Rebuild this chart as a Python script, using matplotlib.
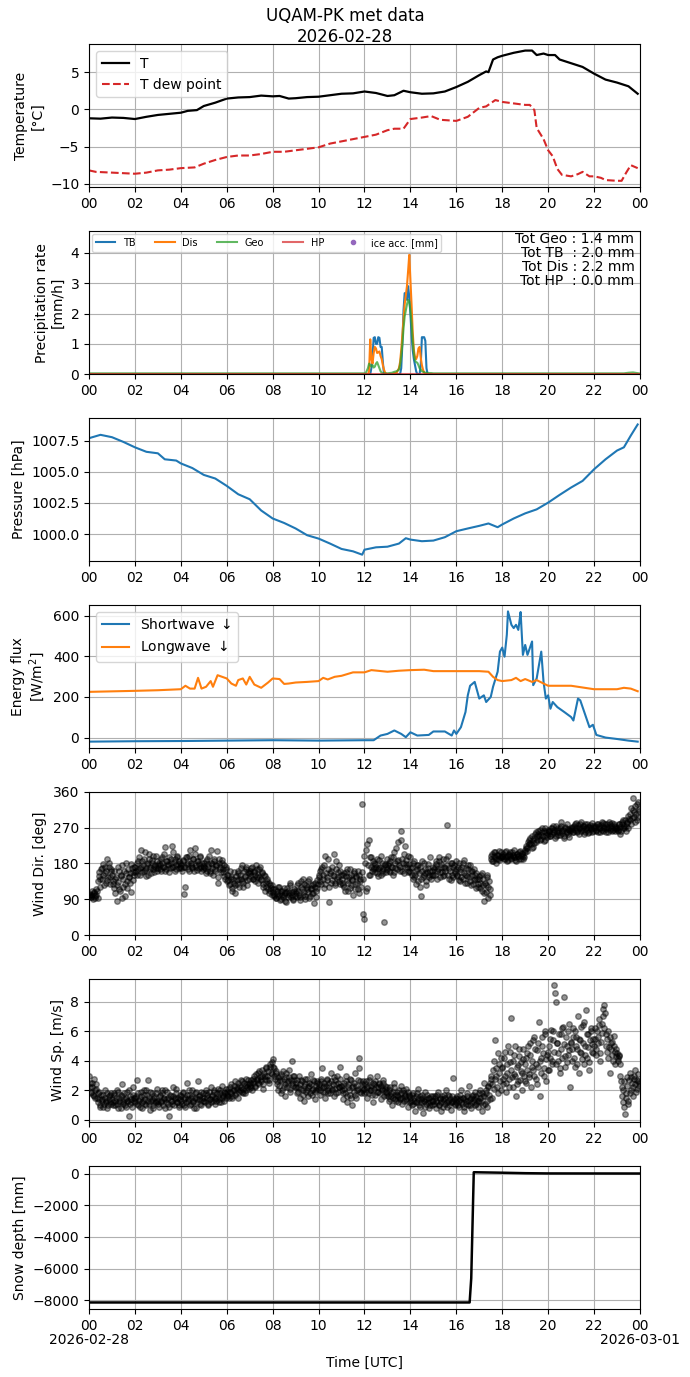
import numpy as np
import pandas as pd
import matplotlib
matplotlib.use('Agg')
import matplotlib.pyplot as plt
import matplotlib.dates as mdates
import matplotlib.transforms as mtransforms

day0 = pd.Timestamp('2026-02-28 00:00')

# temperature [degC], times in hours since 00 UTC
t_T = [0, 0.5, 1, 1.5, 2, 2.5, 3, 3.5, 4, 4.3, 4.7, 5, 5.5, 6, 6.5, 7, 7.5, 8, 8.3, 8.7,
       9, 9.5, 10, 10.5, 11, 11.5, 12, 12.5, 13, 13.3, 13.7, 14, 14.5, 15, 15.5, 16, 16.5,
       17, 17.3, 17.4, 17.6, 17.8, 18, 18.5, 19, 19.3, 19.5, 19.8, 20, 20.3, 20.5, 21,
       21.5, 22, 22.5, 23, 23.5, 23.9]
temp = [-1.2, -1.25, -1.1, -1.15, -1.3, -1.0, -0.75, -0.6, -0.45, -0.2, -0.1, 0.45, 0.9,
        1.45, 1.6, 1.65, 1.85, 1.75, 1.8, 1.45, 1.5, 1.65, 1.7, 1.9, 2.1, 2.15, 2.4, 2.2,
        1.8, 1.9, 2.5, 2.3, 2.1, 2.15, 2.4, 3.0, 3.7, 4.6, 5.1, 5.0, 6.7, 7.0, 7.2, 7.6,
        7.9, 7.9, 7.3, 7.5, 7.3, 7.3, 6.7, 6.2, 5.7, 4.8, 4.0, 3.6, 3.1, 2.1]

t_Td = [0, 0.3, 1, 2, 2.5, 3, 3.5, 4, 4.6, 5, 5.5, 6, 6.5, 7, 7.5, 8, 8.5, 9, 9.5, 10,
        10.5, 11, 11.5, 12, 12.5, 13, 13.3, 13.7, 14, 14.5, 14.9, 15.3, 16, 16.5, 17, 17.3,
        17.7, 18, 18.5, 19, 19.2, 19.4, 19.5, 19.8, 20, 20.2, 20.4, 20.6, 21, 21.3, 21.5,
        21.8, 22, 22.3, 22.5, 23, 23.2, 23.4, 23.6, 23.9]
dewp = [-8.2, -8.4, -8.5, -8.65, -8.5, -8.2, -8.1, -7.9, -7.8, -7.3, -6.8, -6.4, -6.2,
        -6.2, -6.0, -5.7, -5.7, -5.5, -5.3, -5.1, -4.6, -4.3, -4.0, -3.7, -3.4, -2.8, -2.6,
        -2.6, -1.3, -1.1, -0.9, -1.4, -1.55, -1.0, 0.2, 0.4, 1.25, 1.0, 0.8, 0.6, 0.6, -0.1,
        -2.5, -4.0, -5.5, -6.3, -8.0, -8.8, -9.0, -8.7, -8.4, -9.0, -9.0, -9.2, -9.5, -9.6,
        -9.6, -8.5, -7.5, -7.9]

# precipitation rates [mm/h]
t_pr = [0.0, 12.05, 12.15, 12.2, 12.25, 12.3, 12.35, 12.4, 12.45, 12.5, 12.55, 12.6, 12.65,
        12.7, 12.75, 12.8, 12.85, 12.9, 12.95, 13.0, 13.1, 13.2, 13.3, 13.4, 13.5, 13.55,
        13.6, 13.65, 13.7, 13.75, 13.8, 13.85, 13.9, 13.95, 14.0, 14.05, 14.1, 14.15, 14.2,
        14.25, 14.3, 14.35, 14.4, 14.45, 14.5, 14.55, 14.6, 14.65, 14.7, 14.75, 14.8, 14.9,
        15.0, 15.5, 23.3, 23.5, 23.7, 23.95]
pr_tb = [0, 0, 0, 0, 0, 0.2, 0.6, 1.2, 1.22, 1.0, 1.0, 1.22, 1.2, 0.9, 0.9, 0.4, 0, 0, 0,
         0, 0, 0, 0, 0, 0, 0, 0.2, 1.0, 2.1, 2.67, 2.65, 2.45, 2.9, 2.55, 2.0, 1.3, 0.8, 0.5,
         0.3, 0.1, 0, 0, 0, 0.3, 1.22, 1.22, 1.22, 1.1, 0.2, 0, 0, 0, 0, 0, 0, 0, 0, 0]
pr_dis = [0, 0, 0, 0.1, 1.15, 0.5, 0.35, 0.7, 0.9, 0.85, 0.7, 0.72, 0.75, 0.6, 0.5, 0.3,
          0.15, 0.05, 0.02, 0, 0, 0, 0.03, 0.05, 0.2, 0.4, 0.8, 1.3, 1.8, 2.3, 2.6, 2.9, 3.4,
          3.93, 3.1, 2.3, 1.4, 0.8, 0.55, 0.5, 0.6, 0.85, 0.9, 0.55, 0.3, 0.15, 0.05, 0.02,
          0, 0, 0, 0, 0, 0, 0, 0, 0, 0]
pr_geo = [0.03, 0.03, 0.2, 0.35, 0.3, 0.25, 0.3, 0.22, 0.25, 0.35, 0.4, 0.3, 0.2, 0.1, 0.05,
          0.03, 0.03, 0.03, 0.03, 0.03, 0.04, 0.05, 0.08, 0.1, 0.15, 0.3, 0.6, 1.0, 1.5, 1.9,
          2.1, 2.3, 2.45, 2.4, 2.1, 1.7, 1.1, 0.7, 0.45, 0.4, 0.38, 0.3, 0.2, 0.15, 0.1, 0.08,
          0.07, 0.05, 0.05, 0.05, 0.04, 0.04, 0.03, 0.03, 0.03, 0.05, 0.06, 0.03]
pr_hp = [0] * len(t_pr)
t_ice = []
ice_acc = []

# pressure [hPa]
t_p = [0, 0.5, 1, 1.5, 2, 2.5, 3, 3.3, 3.8, 4, 4.5, 5, 5.5, 6, 6.5, 7, 7.5, 8, 8.5, 9, 9.5,
       10, 10.5, 11, 11.5, 11.9, 12.0, 12.5, 13, 13.5, 13.8, 14, 14.5, 15, 15.5, 16, 16.5,
       17, 17.4, 17.8, 18, 18.5, 19, 19.5, 20, 20.5, 21, 21.5, 22, 22.5, 23, 23.3, 23.6, 23.9]
pres = [1007.69, 1007.96, 1007.77, 1007.39, 1006.96, 1006.6, 1006.48, 1006.0, 1005.9,
        1005.67, 1005.3, 1004.75, 1004.46, 1003.87, 1003.2, 1002.8, 1001.9, 1001.26, 1000.9,
        1000.46, 999.92, 999.65, 999.25, 998.82, 998.63, 998.36, 998.76, 998.95, 999.0,
        999.25, 999.68, 999.57, 999.44, 999.49, 999.76, 1000.24, 1000.46, 1000.67, 1000.86,
        1000.56, 1000.78, 1001.26, 1001.67, 1001.99, 1002.53, 1003.15, 1003.74, 1004.27,
        1005.2, 1006.0, 1006.7, 1006.96, 1007.9, 1008.79]

# radiation [W/m2]
t_sw = [0, 2, 4, 6, 8, 10, 12, 12.4, 12.7, 13, 13.3, 13.6, 13.8, 14, 14.3, 14.8, 15, 15.5,
        15.8, 15.9, 16, 16.2, 16.4, 16.5, 16.6, 16.8, 17.0, 17.2, 17.3, 17.5, 17.6, 17.8,
        17.9, 18.0, 18.1, 18.2, 18.25, 18.4, 18.5, 18.6, 18.7, 18.75, 18.8, 18.9, 19.0, 19.1,
        19.3, 19.35, 19.5, 19.7, 19.8, 19.9, 20.0, 20.1, 20.2, 20.4, 20.7, 21.0, 21.1, 21.3,
        21.4, 21.6, 21.8, 21.95, 22.1, 22.5, 23, 23.5, 23.9]
sw_down = [-20, -18, -17, -15, -13, -15, -13, -13, 10, 18, 35, 18, 2, 26, 10, 13, 30, 30, 10,
           35, 18, 51, 126, 208, 255, 274, 192, 208, 175, 200, 250, 324, 423, 443, 398, 506,
           621, 555, 539, 555, 530, 572, 618, 407, 456, 407, 473, 258, 291, 423, 274, 192,
           208, 142, 175, 150, 126, 101, 84, 192, 183, 117, 51, 63, 13, 0, -7, -15, -20]
t_lw = [0, 2, 3, 4, 4.2, 4.4, 4.6, 4.75, 4.9, 5.1, 5.3, 5.4, 5.6, 5.8, 6, 6.2, 6.4, 6.5, 6.7,
        6.85, 7.0, 7.2, 7.5, 7.8, 8, 8.3, 8.5, 8.7, 9, 9.5, 10, 10.2, 10.4, 10.7, 11, 11.5, 12,
        12.3, 13, 13.5, 14, 14.6, 15, 16, 17, 17.4, 17.6, 17.8, 18, 18.4, 18.6, 18.8, 19,
        19.3, 19.5, 19.8, 20, 21, 22, 23, 23.3, 23.6, 23.9]
lw_down = [225, 230, 233, 238, 255, 241, 241, 294, 241, 250, 278, 250, 307, 299, 291, 266,
           255, 283, 291, 261, 299, 261, 245, 271, 291, 288, 264, 266, 271, 274, 278, 294,
           286, 299, 304, 321, 321, 332, 324, 329, 332, 334, 327, 327, 327, 324, 299, 283,
           278, 283, 294, 278, 288, 274, 283, 266, 255, 255, 238, 238, 245, 241, 228]

# wind direction [deg], two interleaved sets of 20 samples per hour
wdir_a = [
    [98, 104, 95, 101, 108, 92, 100, 112, 135, 158, 142, 168, 150, 125, 172, 160, 138, 181, 147, 165],
    [152, 128, 118, 140, 85, 133, 160, 112, 148, 175, 122, 99, 155, 137, 166, 145, 130, 178, 158, 150],
    [172, 160, 150, 185, 168, 215, 158, 176, 190, 163, 148, 180, 205, 170, 155, 188, 166, 174, 198, 160],
    [168, 182, 175, 160, 195, 172, 222, 165, 186, 178, 158, 190, 170, 210, 184, 162, 176, 195, 168, 181],
    [175, 162, 188, 104, 170, 195, 182, 160, 215, 176, 168, 190, 205, 172, 164, 185, 178, 198, 160, 174],
    [180, 168, 155, 192, 172, 160, 214, 178, 150, 185, 165, 175, 130, 190, 170, 158, 182, 166, 148, 172],
    [150, 138, 125, 160, 142, 118, 132, 105, 148, 128, 155, 140, 168, 135, 122, 160, 145, 172, 138, 155],
    [162, 148, 170, 140, 158, 135, 165, 152, 145, 172, 138, 155, 128, 148, 120, 136, 115, 132, 110, 125],
    [108, 98, 115, 92, 104, 120, 88, 110, 100, 95, 118, 105, 84, 112, 102, 125, 96, 108, 90, 115],
    [112, 95, 130, 102, 88, 120, 140, 108, 98, 125, 115, 135, 92, 118, 105, 128, 80, 122, 110, 138],
    [145, 160, 128, 172, 150, 118, 200, 138, 165, 82, 155, 132, 170, 148, 125, 185, 140, 158, 135, 162],
    [140, 125, 155, 112, 148, 165, 130, 118, 150, 138, 102, 160, 128, 145, 115, 152, 135, 120, 330, 142],
    [40, 215, 118, 175, 240, 150, 195, 165, 180, 158, 172, 190, 148, 168, 200, 162, 155, 33, 178, 170],
    [165, 180, 158, 195, 172, 150, 210, 168, 185, 235, 175, 160, 262, 190, 155, 225, 178, 170, 200, 160],
    [158, 170, 140, 185, 150, 128, 165, 175, 120, 98, 160, 145, 180, 155, 135, 168, 150, 195, 142, 162],
    [150, 172, 185, 140, 165, 195, 158, 178, 148, 170, 160, 190, 277, 152, 168, 138, 180, 145, 175, 160],
    [165, 148, 180, 135, 158, 172, 140, 188, 152, 130, 165, 145, 175, 125, 160, 138, 150, 118, 142, 128],
    [140, 118, 155, 125, 86, 132, 108, 145, 120, 100, 190, 205, 185, 198, 210, 192, 202, 188, 196, 208],
    [195, 205, 190, 212, 198, 188, 202, 208, 193, 200, 215, 196, 185, 204, 199, 210, 192, 206, 200, 197],
    [210, 225, 218, 240, 232, 228, 250, 222, 245, 260, 238, 255, 248, 265, 242, 258, 236, 268, 252, 246],
    [255, 262, 248, 270, 258, 265, 244, 275, 260, 252, 268, 285, 256, 263, 250, 272, 258, 266, 247, 262],
    [265, 272, 258, 280, 268, 262, 276, 255, 270, 284, 263, 274, 260, 268, 278, 257, 271, 266, 282, 262],
    [268, 275, 262, 280, 270, 258, 276, 265, 282, 272, 260, 278, 268, 285, 264, 274, 262, 280, 270, 266],
    [270, 262, 278, 254, 285, 268, 275, 290, 262, 282, 300, 288, 320, 295, 345, 310, 285, 330, 298, 318],
]
wdir_b = [
    [102, 96, 110, 90, 105, 99, 115, 94, 148, 120, 165, 140, 178, 155, 130, 190, 145, 170, 128, 160],
    [135, 160, 105, 145, 125, 170, 115, 150, 92, 140, 162, 128, 180, 118, 145, 155, 108, 168, 138, 172],
    [158, 180, 165, 195, 152, 172, 185, 160, 210, 168, 178, 150, 192, 165, 182, 200, 158, 175, 168, 185],
    [176, 165, 190, 180, 170, 205, 160, 185, 175, 195, 168, 182, 225, 172, 190, 165, 200, 178, 185, 170],
    [168, 185, 172, 120, 195, 178, 165, 200, 182, 170, 190, 160, 218, 175, 185, 168, 195, 172, 182, 165],
    [172, 185, 162, 178, 200, 155, 182, 168, 190, 160, 175, 212, 145, 180, 165, 188, 158, 175, 140, 165],
    [135, 152, 128, 145, 110, 140, 158, 125, 138, 162, 120, 150, 142, 175, 130, 148, 165, 125, 158, 142],
    [155, 168, 142, 160, 150, 175, 145, 130, 165, 140, 158, 122, 150, 112, 130, 142, 105, 125, 118, 100],
    [115, 102, 92, 110, 98, 122, 105, 90, 112, 100, 85, 108, 118, 95, 105, 130, 100, 88, 110, 98],
    [105, 125, 110, 95, 135, 115, 100, 128, 90, 120, 108, 140, 98, 115, 125, 105, 132, 95, 118, 128],
    [150, 135, 165, 140, 175, 128, 155, 145, 190, 122, 160, 138, 150, 205, 132, 165, 145, 175, 128, 150],
    [132, 150, 120, 158, 138, 110, 145, 165, 125, 140, 155, 115, 148, 130, 160, 105, 140, 158, 52, 200],
    [180, 110, 230, 150, 195, 172, 160, 185, 168, 178, 155, 165, 188, 172, 150, 180, 165, 175, 158, 190],
    [175, 160, 185, 170, 195, 158, 180, 220, 165, 188, 172, 240, 160, 182, 205, 170, 188, 158, 178, 195],
    [168, 150, 180, 145, 160, 175, 135, 155, 170, 140, 185, 150, 165, 125, 158, 178, 145, 162, 150, 172],
    [165, 150, 178, 160, 185, 145, 170, 158, 190, 152, 168, 175, 200, 140, 162, 180, 150, 170, 155, 185],
    [150, 172, 138, 165, 145, 180, 155, 130, 168, 148, 175, 135, 160, 150, 128, 165, 140, 155, 122, 148],
    [130, 150, 112, 140, 105, 125, 150, 92, 135, 115, 198, 185, 208, 195, 182, 202, 190, 212, 195, 200],
    [200, 192, 208, 196, 185, 205, 198, 190, 210, 202, 195, 188, 205, 200, 192, 212, 198, 205, 190, 215],
    [220, 212, 235, 228, 245, 218, 240, 232, 255, 235, 250, 262, 240, 252, 270, 248, 262, 240, 258, 265],
    [262, 250, 268, 255, 275, 260, 248, 265, 270, 258, 252, 275, 262, 245, 268, 260, 278, 255, 265, 270],
    [270, 260, 275, 265, 282, 258, 270, 278, 262, 268, 275, 255, 280, 265, 272, 260, 276, 268, 258, 275],
    [272, 265, 280, 260, 275, 268, 285, 262, 270, 278, 266, 272, 260, 278, 270, 282, 265, 275, 262, 272],
    [265, 280, 272, 262, 278, 290, 268, 275, 285, 270, 292, 305, 280, 315, 298, 325, 305, 290, 335, 312],
]

# wind speed [m/s], same sampling as wind direction
wspd_a = [
    [3.0, 2.2, 1.8, 2.5, 1.6, 2.0, 2.4, 1.5, 1.2, 1.9, 0.9, 1.4, 1.7, 1.1, 2.0, 1.3, 0.8, 1.6, 1.2, 1.8],
    [1.4, 1.0, 1.8, 1.3, 2.0, 0.8, 1.5, 1.2, 1.7, 2.4, 1.1, 1.4, 0.9, 1.9, 1.3, 0.3, 1.6, 1.2, 2.2, 1.5],
    [1.2, 1.6, 2.7, 1.0, 1.4, 1.9, 0.8, 1.3, 1.7, 1.1, 2.0, 2.7, 1.5, 0.7, 1.3, 1.8, 1.0, 1.6, 1.2, 2.1],
    [1.3, 0.9, 1.7, 1.2, 2.0, 1.5, 0.8, 1.4, 1.9, 1.1, 0.3, 1.6, 1.3, 2.2, 1.0, 1.5, 1.8, 1.2, 0.9, 1.4],
    [1.6, 1.1, 1.9, 1.4, 0.9, 2.5, 1.3, 1.7, 1.0, 1.5, 2.0, 1.2, 1.8, 0.8, 1.4, 2.6, 1.6, 1.1, 1.9, 1.3],
    [1.5, 1.2, 2.0, 1.7, 1.0, 1.4, 2.2, 1.6, 1.3, 1.9, 1.1, 1.5, 2.1, 1.4, 1.8, 1.2, 2.3, 1.6, 1.9, 1.5],
    [1.7, 2.1, 1.5, 1.9, 2.4, 1.6, 2.0, 2.6, 1.8, 2.2, 1.5, 2.3, 2.7, 1.9, 2.1, 2.5, 1.8, 2.8, 2.2, 2.4],
    [2.3, 2.7, 2.0, 2.5, 3.0, 2.2, 2.8, 3.2, 2.4, 2.9, 2.6, 3.4, 2.1, 3.0, 3.6, 2.7, 3.3, 2.5, 3.8, 3.1],
    [4.1, 3.5, 2.8, 3.2, 2.4, 2.0, 3.0, 1.8, 2.6, 3.3, 2.2, 1.6, 2.9, 2.5, 3.4, 2.1, 2.7, 4.0, 2.3, 3.0],
    [2.5, 1.8, 2.2, 3.0, 1.5, 2.7, 2.0, 1.3, 2.4, 1.9, 2.8, 1.6, 2.3, 3.1, 1.7, 2.1, 2.6, 1.4, 2.0, 2.5],
    [2.2, 1.7, 2.6, 3.5, 1.9, 2.3, 1.5, 2.8, 2.0, 2.5, 1.8, 3.2, 2.1, 1.6, 2.7, 2.4, 3.0, 1.9, 2.2, 3.6],
    [2.0, 1.4, 2.5, 1.8, 3.0, 1.2, 2.2, 1.7, 2.7, 1.0, 2.3, 1.9, 3.2, 1.5, 2.1, 4.2, 2.6, 1.8, 2.4, 2.0],
    [2.1, 2.6, 1.5, 2.3, 1.8, 2.9, 2.0, 1.2, 2.4, 1.7, 2.2, 3.0, 1.9, 2.5, 1.4, 2.1, 2.7, 1.6, 2.3, 1.9],
    [1.8, 1.3, 2.2, 1.6, 1.0, 1.9, 2.5, 1.4, 1.7, 1.2, 2.0, 1.5, 2.3, 1.1, 1.8, 1.6, 2.1, 1.3, 0.9, 1.7],
    [1.5, 1.0, 1.8, 1.3, 0.6, 1.6, 1.2, 2.1, 0.9, 1.4, 1.7, 0.5, 1.3, 1.9, 1.1, 1.5, 0.8, 1.2, 1.6, 1.0],
    [1.3, 1.6, 0.8, 1.2, 1.9, 1.0, 1.5, 0.6, 1.4, 1.7, 1.1, 2.0, 0.9, 1.3, 1.6, 0.7, 1.2, 2.85, 1.4, 1.0],
    [1.2, 1.6, 0.9, 1.4, 2.0, 1.1, 1.5, 0.6, 1.3, 1.8, 1.0, 2.3, 1.4, 0.8, 1.6, 1.2, 1.9, 1.1, 1.5, 0.9],
    [1.3, 2.0, 0.6, 1.6, 2.5, 1.1, 1.8, 0.9, 2.2, 1.4, 2.8, 1.5, 3.4, 2.1, 5.4, 3.0, 1.8, 3.8, 2.6, 4.2],
    [3.5, 2.4, 4.6, 1.9, 3.2, 5.0, 2.8, 3.9, 6.9, 2.2, 4.4, 3.0, 1.6, 3.6, 2.6, 4.8, 3.3, 2.0, 4.1, 3.0],
    [3.8, 2.5, 4.5, 3.1, 5.2, 2.2, 4.0, 3.4, 5.6, 2.8, 4.7, 3.6, 6.6, 1.6, 4.2, 5.0, 3.0, 5.8, 2.6, 4.4],
    [4.6, 3.4, 5.5, 4.0, 6.0, 9.1, 8.6, 3.8, 5.2, 4.5, 3.2, 5.8, 4.2, 6.3, 8.3, 3.6, 5.0, 4.4, 6.5, 2.2],
    [5.2, 4.0, 6.2, 3.6, 5.6, 4.8, 7.0, 3.2, 5.4, 4.5, 6.4, 3.8, 5.0, 7.4, 4.2, 5.8, 3.4, 6.0, 4.6, 5.5],
    [5.0, 6.2, 4.4, 5.6, 6.8, 4.0, 5.3, 6.5, 7.5, 7.8, 5.8, 4.6, 6.0, 4.9, 3.2, 5.2, 4.4, 5.7, 3.8, 4.8],
    [4.5, 4.0, 4.3, 3.0, 2.2, 1.2, 2.6, 0.4, 1.8, 2.9, 1.3, 3.2, 2.0, 2.5, 1.6, 2.8, 3.4, 2.1, 2.6, 2.3],
]
wspd_b = [
    [2.5, 1.9, 2.2, 1.7, 2.8, 1.5, 2.1, 1.8, 1.4, 1.0, 1.7, 1.3, 0.9, 1.5, 1.2, 1.8, 1.0, 1.4, 1.7, 1.1],
    [1.2, 1.7, 1.0, 1.5, 1.1, 1.9, 1.3, 0.8, 1.6, 1.2, 1.8, 1.0, 1.5, 1.3, 2.0, 1.1, 1.4, 0.9, 1.7, 1.3],
    [1.5, 1.1, 1.8, 1.3, 0.9, 1.6, 1.2, 2.0, 1.4, 1.0, 1.7, 1.3, 1.1, 1.9, 1.4, 0.8, 1.5, 1.2, 1.8, 1.3],
    [1.1, 1.6, 1.3, 1.8, 1.0, 1.4, 2.0, 1.2, 1.5, 0.9, 1.7, 1.3, 1.1, 1.6, 1.4, 2.1, 1.2, 1.5, 1.0, 1.7],
    [1.3, 1.8, 1.0, 1.5, 1.2, 1.7, 1.4, 2.0, 1.1, 1.6, 1.3, 0.8, 1.5, 1.9, 1.2, 1.4, 1.7, 1.0, 1.5, 1.8],
    [1.3, 1.8, 1.5, 1.1, 1.9, 1.4, 1.2, 1.7, 2.0, 1.5, 1.3, 1.8, 1.6, 1.2, 2.0, 1.5, 1.7, 1.3, 1.8, 2.1],
    [1.9, 1.6, 2.2, 1.8, 1.5, 2.0, 2.3, 1.7, 2.1, 2.5, 1.9, 2.0, 2.2, 2.6, 1.8, 2.3, 2.0, 2.4, 2.7, 2.1],
    [2.5, 2.2, 2.8, 2.6, 2.3, 3.1, 2.7, 2.5, 3.3, 2.8, 3.0, 2.4, 3.2, 2.8, 3.5, 3.0, 2.7, 3.6, 3.2, 3.9],
    [3.6, 3.0, 3.3, 2.6, 2.9, 2.3, 2.7, 3.1, 2.0, 2.8, 2.4, 3.2, 2.2, 2.6, 2.9, 1.9, 2.5, 3.0, 2.7, 2.2],
    [2.2, 2.7, 1.9, 2.4, 2.1, 2.6, 1.7, 2.3, 2.8, 2.0, 2.2, 2.5, 1.8, 2.4, 2.0, 2.7, 1.9, 2.3, 2.6, 2.1],
    [2.4, 2.0, 2.8, 2.2, 2.5, 1.9, 2.3, 2.7, 1.8, 2.2, 2.6, 2.0, 2.4, 2.9, 2.1, 1.8, 2.5, 2.2, 2.8, 2.3],
    [2.3, 1.8, 2.1, 2.6, 1.6, 2.4, 2.0, 2.8, 1.5, 2.2, 2.5, 1.7, 2.3, 2.0, 2.7, 3.5, 1.9, 2.2, 2.6, 1.8],
    [2.4, 1.9, 2.2, 2.7, 2.0, 2.3, 1.7, 2.5, 2.1, 2.6, 1.9, 2.2, 2.4, 1.8, 2.3, 2.0, 2.5, 2.1, 1.7, 2.2],
    [1.6, 2.0, 1.4, 1.8, 1.5, 2.2, 1.7, 1.3, 1.9, 1.6, 1.4, 1.8, 1.5, 2.0, 1.3, 1.7, 1.4, 1.9, 1.6, 1.2],
    [1.3, 1.7, 1.1, 1.5, 1.2, 1.8, 1.4, 1.0, 1.6, 1.2, 1.5, 1.3, 0.9, 1.4, 1.7, 1.2, 1.5, 1.0, 1.3, 1.6],
    [1.1, 1.5, 1.3, 1.7, 1.0, 1.4, 1.2, 1.6, 0.9, 1.3, 1.5, 1.2, 1.7, 1.0, 1.4, 1.2, 1.6, 1.3, 1.1, 1.5],
    [1.4, 1.0, 1.3, 1.7, 1.2, 1.5, 0.9, 1.4, 1.1, 1.6, 1.3, 1.0, 1.5, 1.2, 1.7, 1.4, 1.0, 1.6, 1.3, 1.8],
    [1.5, 1.2, 1.8, 1.0, 1.6, 2.0, 1.3, 2.3, 1.7, 2.5, 3.0, 2.4, 4.0, 2.8, 3.5, 2.2, 4.5, 3.2, 2.0, 3.6],
    [2.8, 4.2, 3.0, 2.5, 3.8, 2.2, 4.6, 3.4, 2.9, 4.0, 3.1, 5.0, 2.4, 3.7, 4.3, 2.7, 3.9, 3.2, 4.8, 2.6],
    [4.2, 3.4, 5.0, 2.9, 4.4, 3.6, 5.4, 3.0, 4.8, 3.8, 2.4, 5.2, 4.0, 3.2, 5.6, 4.5, 3.5, 6.0, 4.1, 3.4],
    [5.0, 4.2, 6.1, 3.8, 5.4, 4.6, 8.0, 5.2, 4.0, 5.8, 3.5, 4.8, 6.2, 5.1, 4.3, 5.6, 3.9, 6.0, 4.7, 5.3],
    [4.8, 5.6, 4.2, 6.0, 5.0, 3.8, 5.5, 4.6, 6.3, 4.1, 5.2, 6.6, 4.4, 5.8, 4.9, 3.9, 5.4, 6.2, 5.1, 4.5],
    [5.5, 4.8, 6.0, 5.2, 6.4, 4.5, 5.9, 7.0, 6.2, 7.2, 5.0, 5.5, 4.2, 5.6, 4.8, 5.3, 4.0, 5.0, 4.6, 4.3],
    [4.2, 4.4, 3.8, 2.6, 1.6, 2.0, 0.9, 1.5, 2.3, 1.1, 2.7, 1.8, 2.9, 2.2, 3.0, 2.4, 1.9, 2.7, 3.1, 2.5],
]

# snow depth [mm]
t_snow = [0, 16.58, 16.65, 16.76, 18.0, 19.0, 20.0, 23.95]
snow = [-8130, -8130, -6600, 80, 50, 20, 5, 0]


def to_time(hours):
    return day0 + pd.to_timedelta(np.asarray(hours, dtype=float), unit='h')


# sample times for the wind records (every 3 min, second set shifted by 1.5 min)
hrs_a = np.concatenate([h + np.arange(20) / 20.0 for h in range(24)])
t_wind = to_time(np.concatenate([hrs_a, hrs_a + 1.0 / 40]))
wdir = np.concatenate([np.concatenate(wdir_a), np.concatenate(wdir_b)])
wspd = np.concatenate([np.concatenate(wspd_a), np.concatenate(wspd_b)])

fig, axs = plt.subplots(7, 1, figsize=(6.9, 13.77), dpi=100)
fig.subplots_adjust(left=0.129, right=0.9275, top=0.968, bottom=0.0494, hspace=0.305)
fig.suptitle('UQAM-PK met data\n2026-02-28', fontsize=12, y=0.995)

# temperature
ax = axs[0]
ax.plot(to_time(t_T), temp, color='k', lw=1.6, label='T')
ax.plot(to_time(t_Td), dewp, '--', color='tab:red', lw=1.5, label='T dew point')
ax.set_ylabel('Temperature\n[°C]')
ax.legend(loc='upper left')

# precipitation
ax = axs[1]
tp = to_time(t_pr)
ax.plot(tp, pr_tb, color='tab:blue', lw=1.5, label='TB')
ax.plot(tp, pr_dis, color='tab:orange', lw=1.5, label='Dis')
ax.plot(tp, pr_geo, color='tab:green', lw=1.5, alpha=0.75, label='Geo')
ax.plot(tp, pr_hp, color='tab:red', lw=1.5, alpha=0.7, label='HP')
ax.plot(to_time(t_ice), ice_acc, 'o', color='tab:purple', ms=3, label='ice acc. [mm]')
ax.set_ylim(0, max(pr_dis) * 1.2)
ax.set_ylabel('Precipitation rate\n[mm/h]')
ax.legend(loc='upper left', ncol=5, fontsize=7, borderaxespad=0.3, columnspacing=2.0)
ax.text(0.99, 0.995, 'Tot Geo : 1.4 mm\nTot TB  : 2.0 mm\nTot Dis : 2.2 mm\nTot HP  : 0.0 mm',
        transform=ax.transAxes, ha='right', va='top', multialignment='right',
        fontsize=10, linespacing=1.0)

# pressure
ax = axs[2]
ax.plot(to_time(t_p), pres, color='tab:blue', lw=1.5)
ax.set_ylabel('Pressure [hPa]')

# radiation
ax = axs[3]
ax.plot(to_time(t_sw), sw_down, color='tab:blue', lw=1.5, label='Shortwave $\\downarrow$')
ax.plot(to_time(t_lw), lw_down, color='tab:orange', lw=1.5, label='Longwave $\\downarrow$')
ax.set_ylabel('Energy flux\n[W/m$^2$]')
ax.legend(loc='upper left')

# wind direction
ax = axs[4]
ax.plot(t_wind, wdir, 'o', color='k', ms=4, alpha=0.42)
ax.set_ylim(0, 360)
ax.set_yticks([0, 90, 180, 270, 360])
ax.set_ylabel('Wind Dir. [deg]')

# wind speed
ax = axs[5]
ax.plot(t_wind, wspd, 'o', color='k', ms=4, alpha=0.42)
ax.set_ylabel('Wind Sp. [m/s]')

# snow depth
ax = axs[6]
ax.plot(to_time(t_snow), snow, color='k', lw=1.8)
ax.set_ylabel('Snow depth [mm]')
ax.set_xlabel('Time [UTC]', labelpad=17)

t_end = day0 + pd.Timedelta(hours=24)
for ax in axs:
    ax.set_xlim(day0, t_end)
    ax.xaxis.set_major_locator(mdates.HourLocator(interval=2))
    ax.xaxis.set_major_formatter(mdates.DateFormatter('%H'))
    ax.grid(True)

# day labels under the first and last ticks of the bottom panel
ax = axs[6]
trans = mtransforms.blended_transform_factory(ax.transData, ax.transAxes)
for d in [day0, t_end]:
    ax.text(d, -0.165, d.strftime('%Y-%m-%d'), transform=trans, ha='center', va='top',
            fontsize=10)

fig.savefig('out.png', dpi=100)
